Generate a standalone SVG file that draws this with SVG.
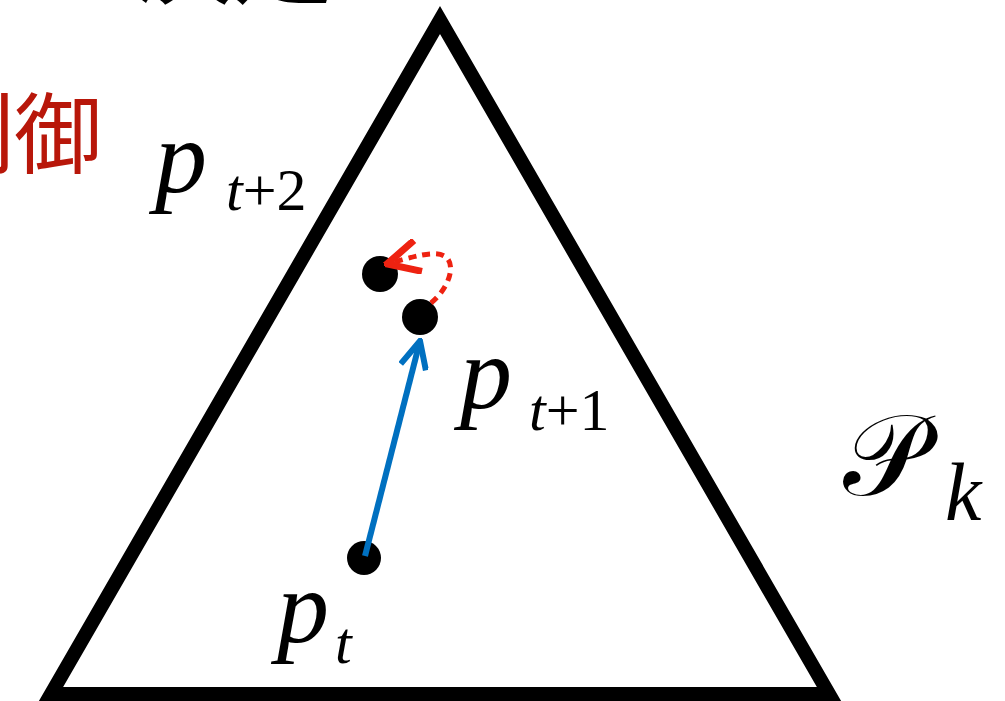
<svg xmlns="http://www.w3.org/2000/svg" width="1005" height="701" viewBox="0 0 1005 701">
  <style>
    .math { font-family: "Liberation Serif", "Times New Roman", serif; fill: #000; }
    .it { font-style: italic; }
    .cjk { font-family: "Noto Sans CJK JP", "Noto Sans CJK SC", sans-serif; }
    .dot { fill: #000; }
  </style>
  <defs>
    <marker id="arrowBlue" viewBox="0 0 32 30" refX="29" refY="15" markerWidth="32" markerHeight="30" markerUnits="userSpaceOnUse" orient="auto">
      <path d="M2,2 L29,15 L2,28" fill="none" stroke="#0070C0" stroke-width="6" stroke-linejoin="miter"/>
    </marker>
    <marker id="arrowRed" viewBox="0 0 38 36" refX="35" refY="18" markerWidth="38" markerHeight="36" markerUnits="userSpaceOnUse" orient="auto">
      <path d="M3,2 L35,18 L3,34" fill="none" stroke="#EE2211" stroke-width="7" stroke-linejoin="miter"/>
    </marker>
  </defs>

  <rect width="1005" height="701" fill="#fff"/>

  <g id="title">
    <text class="cjk" x="333" y="-4" font-size="100" text-anchor="end" fill="#000">の決定</text>
  </g>
  <g id="label-control">
    <text class="cjk" x="-74" y="166" font-size="88" fill="#B8170A">制御</text>
  </g>

  <g id="simplex">
    <polygon points="440,20 829,694 51,694" fill="none" stroke="#000" stroke-width="14" stroke-linejoin="miter" stroke-miterlimit="10"/>
  </g>

  <g id="node-pt">
    <circle class="dot" cx="364" cy="558" r="17"/>
    <text class="math it" x="277" y="642" font-size="104">p</text>
    <text class="math it" x="335" y="663" font-size="60">t</text>
  </g>
  <g id="node-pt1">
    <circle class="dot" cx="420" cy="317" r="18"/>
    <text class="math it" x="460" y="408" font-size="104">p</text>
    <text class="math" x="529" y="430" font-size="60"><tspan class="it">t</tspan>+1</text>
  </g>
  <g id="node-pt2">
    <circle class="dot" cx="380" cy="274" r="18"/>
    <text class="math it" x="155" y="192" font-size="104">p</text>
    <text class="math" x="226" y="210" font-size="60"><tspan class="it">t</tspan>+2</text>
  </g>
  <g id="label-Pk">
    <text class="math" x="843" y="495" font-size="115" font-family="'DejaVu Serif', 'Noto Sans', serif">𝒫</text>
    <text class="math it" x="945" y="520" font-size="82">k</text>
  </g>

  <g id="connectors">
    <line x1="365" y1="556" x2="420" y2="341" stroke="#0070C0" stroke-width="6" marker-end="url(#arrowBlue)"/>
    <path d="M431,303 C447,290 456,268 447,258 C437,248 410,258 387,264" fill="none" stroke="#EE2211" stroke-width="5" stroke-dasharray="8,6" marker-end="url(#arrowRed)"/>
  </g>
</svg>
